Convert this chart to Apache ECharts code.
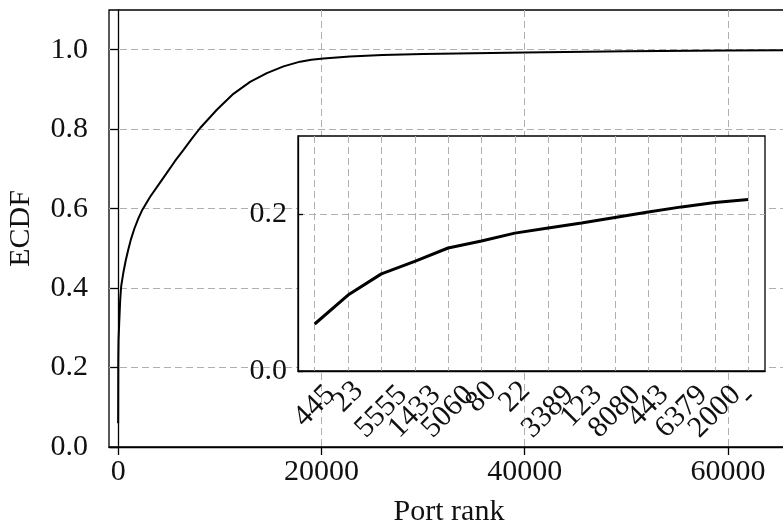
<!DOCTYPE html>
<html>
<head>
<meta charset="utf-8">
<script src="https://cdn.jsdelivr.net/npm/echarts@6/dist/echarts.min.js"></script>
<style>
  html, body { margin: 0; padding: 0; background: #fff; }
  #chart { width: 783px; height: 529px; }
</style>
</head>
<body>
<div id="chart"></div>
<script>
// main ECDF curve (port rank -> cumulative share)
const mainRank = [0, 13, 40, 100, 200, 300, 520, 750, 1000, 1250, 1600, 2000, 2400, 3150, 4000, 4790, 5600, 6430, 7250, 8070, 9710, 11340, 12980, 14630, 16270, 17900, 19000, 20200, 22800, 26000, 30000, 35000, 40000, 50000, 60000, 65535];
const mainEcdf = [0.06, 0.219, 0.27, 0.31, 0.37, 0.405, 0.44, 0.47, 0.497, 0.522, 0.55, 0.576, 0.598, 0.63, 0.661, 0.69, 0.72, 0.748, 0.776, 0.803, 0.849, 0.889, 0.919, 0.941, 0.958, 0.97, 0.975, 0.978, 0.983, 0.987, 0.989, 0.991, 0.993, 0.996, 0.998, 0.999];
const mainXTicks = [0, 20000, 40000, 60000];
const mainYTicks = [0, 0.2, 0.4, 0.6, 0.8, 1.0];

// inset: top ports
const portLabels = ['445', '23', '5555', '1433', '5060', '80', '22', '3389', '123', '8080', '443', '6379', '2000', '-'];
const portEcdf = [0.06, 0.097, 0.124, 0.14, 0.157, 0.166, 0.176, 0.1825, 0.189, 0.196, 0.203, 0.2095, 0.215, 0.219];
const insetYTicks = [0, 0.2];

const FONT = 'Liberation Serif';
const TXT = '#111';
const gridLine = { show: true, lineStyle: { color: '#b0b0b0', width: 1, type: [7, 4] } };

const chart = echarts.init(document.getElementById('chart'));

chart.setOption({
  backgroundColor: '#fff',
  animation: false,
  grid: [
    { left: 109, top: 10, width: 680, bottom: 82, outerBoundsMode: 'none', containLabel: false, show: true, borderColor: '#000', borderWidth: 1.3, backgroundColor: 'transparent' },
    { left: 298, top: 136, width: 467, height: 235, outerBoundsMode: 'none', containLabel: false, show: true, borderColor: '#000', borderWidth: 1.3, backgroundColor: '#fff', z: 10 }
  ],
  xAxis: [
    {
      type: 'value', gridIndex: 0, min: -900, max: 66000, splitNumber: 3,
      name: 'Port rank', nameLocation: 'middle', nameGap: 50,
      nameTextStyle: { fontFamily: FONT, fontSize: 30, color: TXT },
      axisLine: { lineStyle: { color: '#000', width: 1.3 } },
      axisTick: { length: 8, lineStyle: { color: '#000', width: 1.3 }, customValues: mainXTicks },
      axisLabel: {
        fontFamily: FONT, fontSize: 30, color: TXT, margin: 10, customValues: mainXTicks,
        formatter: v => (v % 20000 === 0 ? String(v) : '')
      },
      splitLine: gridLine
    },
    {
      type: 'category', gridIndex: 1, data: portLabels, z: 11,
      axisLine: { lineStyle: { color: '#000', width: 1.3 } },
      axisTick: { inside: true, length: 5, alignWithLabel: true, lineStyle: { color: '#000', width: 1.3 } },
      axisLabel: {
        interval: 0, rotate: 45, align: 'center', verticalAlign: 'middle', margin: 26,
        fontFamily: FONT, fontSize: 30, color: TXT,
        formatter: v => {
          const k = v.length >= 4 ? 'l4' : v.length === 3 ? 'l3' : 'l1';
          return '{' + k + '|' + v + '}';
        },
        rich: {
          l4: { fontFamily: FONT, fontSize: 30, color: TXT, padding: [21, 21, 0, 0] },
          l3: { fontFamily: FONT, fontSize: 30, color: TXT, padding: [13, 13, 0, 0] },
          l1: { fontFamily: FONT, fontSize: 30, color: TXT }
        }
      },
      splitLine: Object.assign({ interval: 0, alignWithLabel: true }, gridLine)
    }
  ],
  yAxis: [
    {
      type: 'value', gridIndex: 0, min: 0, max: 1.1, interval: 0.2,
      name: 'ECDF', nameLocation: 'middle', nameGap: 73,
      nameTextStyle: { fontFamily: FONT, fontSize: 30, color: TXT },
      axisLine: { show: true, lineStyle: { color: '#000', width: 1.3 } },
      axisTick: { show: true, length: 8, lineStyle: { color: '#000', width: 1.3 }, customValues: mainYTicks },
      axisLabel: {
        fontFamily: FONT, fontSize: 30, color: TXT, margin: 21, customValues: mainYTicks,
        formatter: v => (Math.abs(v * 5 - Math.round(v * 5)) < 1e-6 ? v.toFixed(1) : '')
      },
      splitLine: gridLine
    },
    {
      type: 'value', gridIndex: 1, min: 0, max: 0.3, interval: 0.2, z: 11,
      axisLine: { show: true, lineStyle: { color: '#000', width: 1.3 } },
      axisTick: { show: true, inside: true, length: 5, lineStyle: { color: '#000', width: 1.3 }, customValues: insetYTicks },
      axisLabel: {
        fontFamily: FONT, fontSize: 30, color: TXT, margin: 11, customValues: insetYTicks,
        formatter: v => (Math.abs(v * 5 - Math.round(v * 5)) < 1e-6 ? v.toFixed(1) : '')
      },
      splitLine: gridLine
    }
  ],
  series: [
    {
      type: 'line', xAxisIndex: 0, yAxisIndex: 0,
      data: mainRank.map((r, i) => [r, mainEcdf[i]]),
      showSymbol: false, lineStyle: { color: '#000', width: 2 }, z: 3
    },
    {
      type: 'line', xAxisIndex: 1, yAxisIndex: 1,
      data: portEcdf,
      showSymbol: false, lineStyle: { color: '#000', width: 3 }, z: 12
    }
  ]
});
</script>
</body>
</html>
